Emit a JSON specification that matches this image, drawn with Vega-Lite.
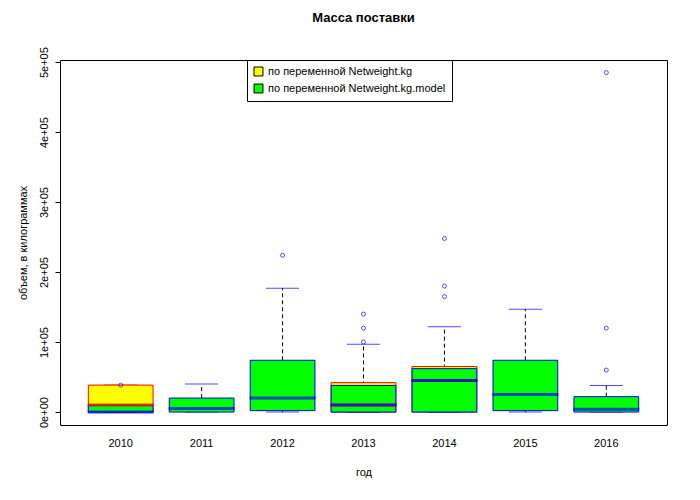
{
  "$schema": "https://vega.github.io/schema/vega-lite/v6.json",
  "width": 607,
  "height": 365,
  "autosize": "none",
  "padding": {"left": 60, "top": 60, "right": 33, "bottom": 75},
  "background": "white",
  "title": {"text": "Масса поставки", "fontSize": 13, "fontWeight": "bold", "font": "Liberation Sans", "anchor": "middle", "offset": 22, "color": "black"},
  "config": {
    "view": {"stroke": "black", "strokeWidth": 1},
    "axis": {"grid": false, "domainColor": "black", "tickColor": "black", "labelColor": "black", "titleColor": "black", "labelFont": "Liberation Sans", "titleFont": "Liberation Sans", "labelFontSize": 11, "titleFontSize": 11, "titleFontWeight": "normal"}
  },
  "datasets": {
    "stats": [
      {"year": "2010", "series": "по переменной Netweight.kg", "lower": 0, "q1": 0, "median": 10000, "q3": 38500, "upper": 38500},
      {"year": "2013", "series": "по переменной Netweight.kg", "lower": 0, "q1": 0, "median": 10000, "q3": 42000, "upper": 42000},
      {"year": "2014", "series": "по переменной Netweight.kg", "lower": 0, "q1": 0, "median": 45000, "q3": 65000, "upper": 65000},
      {"year": "2010", "series": "по переменной Netweight.kg.model", "lower": 0, "q1": 0, "median": 0, "q3": 10000, "upper": 10000},
      {"year": "2011", "series": "по переменной Netweight.kg.model", "lower": 0, "q1": 0, "median": 5000, "q3": 20000, "upper": 40000},
      {"year": "2012", "series": "по переменной Netweight.kg.model", "lower": 0, "q1": 2000, "median": 20000, "q3": 74000, "upper": 177000},
      {"year": "2013", "series": "по переменной Netweight.kg.model", "lower": 0, "q1": 0, "median": 10000, "q3": 38000, "upper": 97000},
      {"year": "2014", "series": "по переменной Netweight.kg.model", "lower": 0, "q1": 0, "median": 45000, "q3": 62000, "upper": 122000},
      {"year": "2015", "series": "по переменной Netweight.kg.model", "lower": 0, "q1": 2000, "median": 25000, "q3": 74000, "upper": 147000},
      {"year": "2016", "series": "по переменной Netweight.kg.model", "lower": 0, "q1": 0, "median": 4000, "q3": 22000, "upper": 38000}
    ],
    "outliers": [
      {"year": "2010", "value": 38500},
      {"year": "2012", "value": 224000},
      {"year": "2013", "value": 100000},
      {"year": "2013", "value": 120000},
      {"year": "2013", "value": 140000},
      {"year": "2014", "value": 165000},
      {"year": "2014", "value": 180000},
      {"year": "2014", "value": 248000},
      {"year": "2016", "value": 60000},
      {"year": "2016", "value": 120000},
      {"year": "2016", "value": 485000}
    ]
  },
  "encoding": {
    "x": {"field": "year", "type": "ordinal", "title": "год", "scale": {"domain": ["2010","2011","2012","2013","2014","2015","2016"], "paddingInner": 0.2, "paddingOuter": 0.35}, "axis": {"labelAngle": 0, "domain": false, "ticks": false, "labelPadding": 12, "titlePadding": 18}}
  },
  "layer": [
    {
      "data": {"name": "stats"},
      "mark": {"type": "rule", "strokeDash": [4, 3]},
      "encoding": {
        "y": {"field": "q3", "type": "quantitative", "title": "объем, в килограммах", "scale": {"domain": [-18500, 503000], "nice": false, "zero": false}, "axis": {"values": [0, 100000, 200000, 300000, 400000, 500000], "labelExpr": "datum.value == 0 ? '0e+00' : (datum.value / 100000) + 'e+05'", "labelAngle": -90, "labelAlign": "center", "labelBaseline": "bottom", "labelPadding": 6, "domain": false, "titlePadding": 10}},
        "y2": {"field": "upper"},
        "color": {"value": "black"}
      }
    },
    {
      "data": {"name": "stats"},
      "mark": {"type": "rule", "strokeDash": [4, 3]},
      "encoding": {"y": {"field": "lower", "type": "quantitative"}, "y2": {"field": "q1"}, "color": {"value": "black"}}
    },
    {
      "data": {"name": "stats"},
      "mark": {"type": "tick", "size": 33, "thickness": 1},
      "encoding": {
        "y": {"field": "upper", "type": "quantitative"},
        "color": {"field": "series", "type": "nominal", "scale": {"range": ["red", "blue"]}, "legend": null}
      }
    },
    {
      "data": {"name": "stats"},
      "mark": {"type": "tick", "size": 33, "thickness": 1},
      "encoding": {
        "y": {"field": "lower", "type": "quantitative"},
        "color": {"field": "series", "type": "nominal", "legend": null}
      }
    },
    {
      "data": {"name": "stats"},
      "mark": {"type": "bar", "strokeWidth": 1},
      "encoding": {
        "y": {"field": "q1", "type": "quantitative"},
        "y2": {"field": "q3"},
        "fill": {"field": "series", "type": "nominal", "title": null, "scale": {"domain": ["по переменной Netweight.kg", "по переменной Netweight.kg.model"], "range": ["#ffff00", "#00ff00"]},
          "legend": {"orient": "none", "legendX": 187, "legendY": 0, "direction": "vertical", "symbolType": "square", "symbolSize": 80, "symbolStrokeColor": "black", "symbolStrokeWidth": 1, "labelFont": "Liberation Sans", "labelFontSize": 11, "labelColor": "black", "strokeColor": "black", "padding": 6, "rowPadding": 4, "labelLimit": 300, "cornerRadius": 0}},
        "stroke": {"field": "series", "type": "nominal", "scale": {"range": ["red", "blue"]}, "legend": null}
      }
    },
    {
      "data": {"name": "stats"},
      "mark": {"type": "tick", "size": 66, "thickness": 3},
      "encoding": {
        "y": {"field": "median", "type": "quantitative"},
        "color": {"field": "series", "type": "nominal", "legend": null}
      }
    },
    {
      "data": {"name": "outliers"},
      "mark": {"type": "point", "shape": "circle", "size": 16, "filled": false, "color": "blue", "strokeWidth": 1},
      "encoding": {"y": {"field": "value", "type": "quantitative"}}
    }
  ]
}
